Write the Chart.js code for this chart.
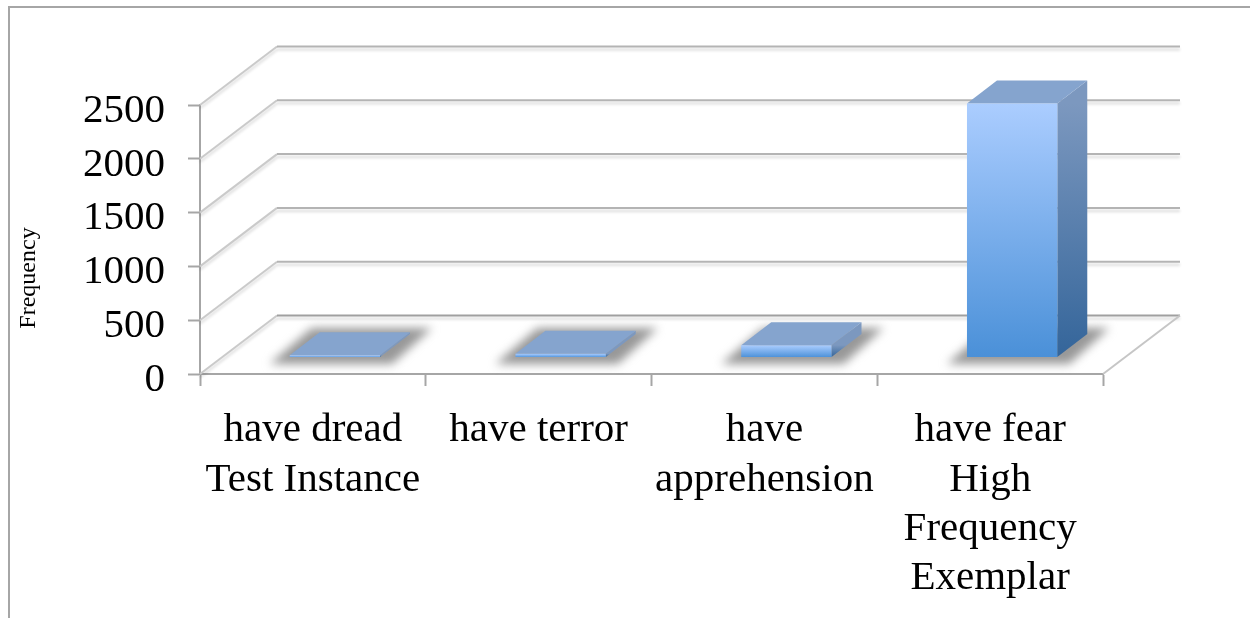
<!DOCTYPE html>
<html>
<head>
<meta charset="utf-8">
<title>Frequency</title>
<script src="https://cdn.jsdelivr.net/npm/chart.js@4"></script>
<style>
    html, body { margin: 0; padding: 0; background: #fff; overflow: hidden; }
    #wrap { position: relative; width: 1250px; height: 618px; }
    #frame { position: absolute; left: 8px; top: 6px; width: 1250px; height: 700px; border: 2px solid #a6a6a6; }
    canvas { position: absolute; left: 0; top: 0; }
</style>
</head>
<body>
<div id="wrap">
    <div id="frame"></div>
    <canvas id="chart" width="1250" height="618"></canvas>
</div>
<script>
const categories = [
    ['have dread', 'Test Instance'],
    'have terror',
    ['have', 'apprehension'],
    ['have fear', 'High', 'Frequency', 'Exemplar']
];
const frequencies = [20, 35, 115, 2360];
const yTicks = [0, 500, 1000, 1500, 2000, 2500];
const yTitle = 'Frequency';

// 3D look: how far the back wall and the bars sit behind the front plane
const FLOOR_DX = 77, FLOOR_DY = -58.5;
const BAR_DX = 30, BAR_DY = -23;
const SHIFT_DX = 22, SHIFT_DY = -16.5;
const AXIS_COLOR = '#a6a6a6';

function frontGradient(context) {
    const chart = context.chart;
    const y = chart.scales.y;
    if (!y || !chart.chartArea) return '#6fa8e8';
    const g = chart.ctx.createLinearGradient(0, y.getPixelForValue(context.raw), 0, y.getPixelForValue(0));
    g.addColorStop(0, '#abcdff');
    g.addColorStop(1, '#4a90d8');
    return g;
}

const fake3d = {
    id: 'fake3d',
    beforeDatasetsDraw(chart) {
        const ctx = chart.ctx;
        const x = chart.scales.x, y = chart.scales.y;

        // back wall and side wall lines
        ctx.save();
        ctx.shadowColor = 'rgba(0,0,0,0.16)';
        ctx.shadowBlur = 3;
        ctx.shadowOffsetY = 3;
        yTicks.forEach(function(v) {
            const py = y.getPixelForValue(v);
            ctx.strokeStyle = '#cacaca';
            ctx.lineWidth = 2;
            ctx.beginPath();
            ctx.moveTo(x.left, py);
            ctx.lineTo(x.left + FLOOR_DX, py + FLOOR_DY);
            ctx.stroke();
            ctx.strokeStyle = v === 0 ? '#a0a0a0' : '#b4b4b4';
            ctx.beginPath();
            ctx.moveTo(x.left + FLOOR_DX, py + FLOOR_DY);
            ctx.lineTo(x.right + FLOOR_DX, py + FLOOR_DY);
            ctx.stroke();
        });
        ctx.restore();

        // right edge of the floor
        const py0 = y.getPixelForValue(0);
        ctx.save();
        ctx.strokeStyle = '#c6c6c6';
        ctx.lineWidth = 2;
        ctx.beginPath();
        ctx.moveTo(x.right, py0);
        ctx.lineTo(x.right + FLOOR_DX, py0 + FLOOR_DY);
        ctx.stroke();
        ctx.restore();

        // axis title
        ctx.save();
        ctx.translate(29, 278);
        ctx.rotate(-Math.PI / 2);
        ctx.font = '24px "Liberation Serif"';
        ctx.fillStyle = '#000';
        ctx.textAlign = 'center';
        ctx.textBaseline = 'middle';
        ctx.fillText(yTitle, 0, 0);
        ctx.restore();

        // bars sit behind the front plane, so move everything back
        ctx.save();
        ctx.translate(SHIFT_DX, SHIFT_DY);
        chart.getDatasetMeta(0).data.forEach(function(bar) {
            const left = bar.x - bar.width / 2, right = bar.x + bar.width / 2;

            // floor shadow
            ctx.save();
            ctx.filter = 'blur(5px)';
            ctx.fillStyle = '#989898';
            ctx.beginPath();
            ctx.moveTo(left - 20, bar.base + 7);
            ctx.lineTo(right + 12, bar.base + 7);
            ctx.lineTo(right + 52, bar.base - 29);
            ctx.lineTo(left + 22, bar.base - 29);
            ctx.closePath();
            ctx.fill();
            ctx.restore();

            // side face
            const side = ctx.createLinearGradient(0, bar.y, 0, bar.base);
            side.addColorStop(0, '#7c98bf');
            side.addColorStop(1, '#34659a');
            ctx.fillStyle = side;
            ctx.beginPath();
            ctx.moveTo(right, bar.y);
            ctx.lineTo(right + BAR_DX, bar.y + BAR_DY);
            ctx.lineTo(right + BAR_DX, bar.base + BAR_DY);
            ctx.lineTo(right, bar.base);
            ctx.closePath();
            ctx.fill();

            // top face
            ctx.fillStyle = '#85a4ce';
            ctx.beginPath();
            ctx.moveTo(left, bar.y);
            ctx.lineTo(right, bar.y);
            ctx.lineTo(right + BAR_DX, bar.y + BAR_DY);
            ctx.lineTo(left + BAR_DX, bar.y + BAR_DY);
            ctx.closePath();
            ctx.fill();
        });
    },
    afterDatasetsDraw(chart) {
        chart.ctx.restore();
    }
};

new Chart(document.getElementById('chart'), {
    type: 'bar',
    data: {
        labels: categories,
        datasets: [{
            data: frequencies,
            backgroundColor: frontGradient,
            borderWidth: 0,
            barPercentage: 0.4,
            categoryPercentage: 1,
            clip: false
        }]
    },
    plugins: [fake3d],
    options: {
        responsive: false,
        animation: false,
        layout: { padding: { top: 105, right: 147, left: 0, bottom: 0 } },
        plugins: { legend: { display: false }, tooltip: { enabled: false } },
        scales: {
            x: {
                afterFit: function(scale) { scale.height = 244; },
                grid: { drawOnChartArea: false, drawTicks: true, tickLength: 12, tickColor: AXIS_COLOR, tickWidth: 2 },
                border: { color: AXIS_COLOR, width: 2 },
                ticks: {
                    color: '#000',
                    padding: 20,
                    maxRotation: 0,
                    autoSkip: false,
                    font: { family: '"Liberation Serif"', size: 41, lineHeight: 1.2 }
                }
            },
            y: {
                min: 0,
                max: 2500,
                afterFit: function(scale) { scale.width = 200; },
                afterBuildTicks: function(scale) {
                    scale.ticks = yTicks.map(function(v) { return { value: v }; });
                },
                grid: { drawOnChartArea: false, drawTicks: true, tickLength: 12, tickColor: AXIS_COLOR, tickWidth: 2 },
                border: { color: AXIS_COLOR, width: 2 },
                ticks: {
                    color: '#000',
                    padding: 23,
                    labelOffset: 6,
                    font: { family: '"Liberation Serif"', size: 41 },
                    callback: function(v) { return String(v); }
                }
            }
        }
    }
});
</script>
</body>
</html>
